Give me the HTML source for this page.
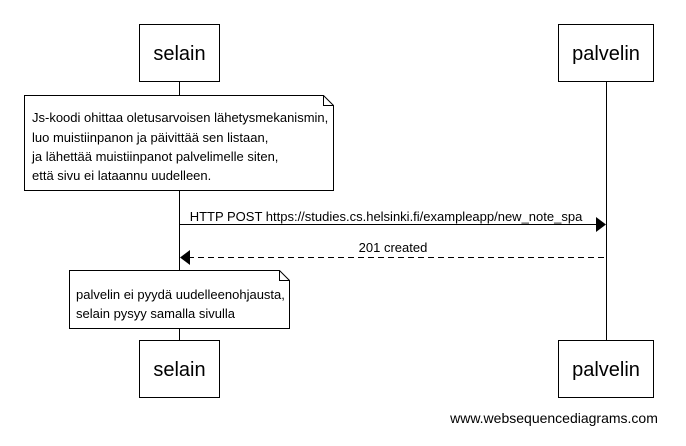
<!DOCTYPE html><html><head><style>body{margin:0;background:#fff}svg text{font-family:"Liberation Sans",sans-serif;fill:#000}</style></head><body>
<svg width="686" height="441" xmlns="http://www.w3.org/2000/svg">
<g stroke="#000" stroke-width="1" fill="none">
<line x1="179.5" y1="81" x2="179.5" y2="340"/>
<line x1="606.5" y1="81" x2="606.5" y2="340"/>
<rect x="139.5" y="24.5" width="80" height="57" fill="#fff"/>
<rect x="558.5" y="24.5" width="95" height="57" fill="#fff"/>
<rect x="139.5" y="340.5" width="80" height="57" fill="#fff"/>
<rect x="558.5" y="340.5" width="95" height="57" fill="#fff"/>
<path d="M24.5 95.5H323.5L333.5 105.5V190.5H24.5Z" fill="#fff"/>
<path d="M323.5 95.5V105.5H333.5"/>
<path d="M69.5 270.5H279.5L289.5 280.5V328.5H69.5Z" fill="#fff"/>
<path d="M279.5 270.5V280.5H289.5"/>
<line x1="179.5" y1="224.5" x2="597" y2="224.5"/>
<line x1="188" y1="257.5" x2="606" y2="257.5" stroke-dasharray="6,4"/>
</g>
<path d="M596 217L606 224.5L596 232Z"/>
<path d="M190 250L180 257.5L190 265Z"/>
<g font-size="20" text-anchor="middle">
<text x="179.5" y="60">selain</text><text x="606" y="60">palvelin</text>
<text x="179.5" y="376">selain</text><text x="606" y="376">palvelin</text>
</g>
<g font-size="13">
<text x="32" y="122">Js-koodi ohittaa oletusarvoisen lähetysmekanismin,</text>
<text x="32" y="142">luo muistiinpanon ja päivittää sen listaan,</text>
<text x="32" y="161">ja lähettää muistiinpanot palvelimelle siten,</text>
<text x="32" y="180">että sivu ei lataannu uudelleen.</text>
<text x="76" y="299">palvelin ei pyydä uudelleenohjausta,</text>
<text x="76" y="318">selain pysyy samalla sivulla</text>
<text x="386" y="221" text-anchor="middle">HTTP POST https://studies.cs.helsinki.fi/exampleapp/new_note_spa</text>
<text x="393" y="252" text-anchor="middle">201 created</text>
<text x="554" y="423" text-anchor="middle" font-size="14">www.websequencediagrams.com</text>
</g>
</svg></body></html>
